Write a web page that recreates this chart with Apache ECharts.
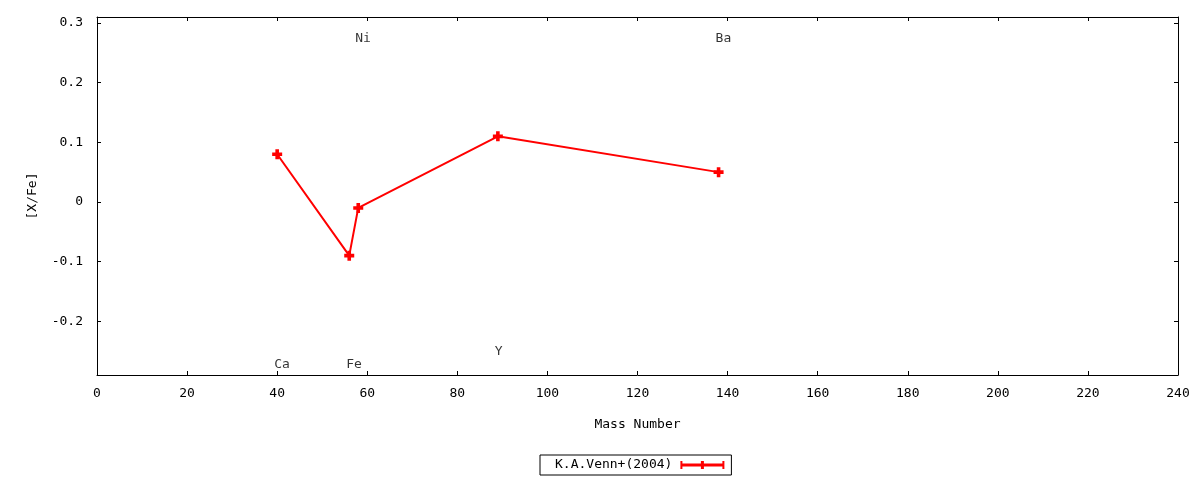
<!DOCTYPE html>
<html>
<head>
<meta charset="utf-8">
<script src="https://cdn.jsdelivr.net/npm/echarts@6/dist/echarts.min.js"></script>
<style>html,body{margin:0;padding:0;background:#fff}#c{width:1200px;height:480px}</style>
</head>
<body>
<div id="c"></div>
<script>
const elements = ['Ca', 'Fe', 'Ni', 'Y', 'Ba'];
const massNumbers = [40, 56, 58, 89, 138];
const xFe = [0.08, -0.09, -0.01, 0.11, 0.05];
const labelY = [-0.273, -0.273, 0.273, -0.25, 0.273];
const xTicks = [0, 20, 40, 60, 80, 100, 120, 140, 160, 180, 200, 220, 240];
const yTicks = [-0.2, -0.1, 0, 0.1, 0.2, 0.3];
const seriesName = 'K.A.Venn+(2004)';

const FONT = 'DejaVu Sans Mono';
const plusPath = 'path://M3.2,0H6.8V3.2H10V6.8H6.8V10H3.2V6.8H0V3.2H3.2Z';
const legendPath = 'path://M0,2.5H44V5.5H0Z M0,0H2V8H0Z M42,0H44V8H42Z M20.5,0H23.5V8H20.5Z';

const chart = echarts.init(document.getElementById('c'), null, {renderer: 'canvas'});
const axisLineStyle = {show: true, onZero: false, lineStyle: {color: '#000', width: 1}};
const tickStyle = {show: true, inside: true, length: 4, lineStyle: {color: '#000', width: 1}};
const lblStyle = {color: '#000', fontFamily: FONT, fontSize: 13};

chart.setOption({
  animation: false,
  backgroundColor: '#fff',
  grid: {left: 97, right: 22, top: 17, bottom: 105, show: false},
  legend: {
    data: [{name: seriesName, icon: legendPath}],
    left: 540, top: 455,
    align: 'right',
    itemWidth: 44, itemHeight: 8,
    padding: [3, 7, 3, 15],
    borderColor: '#000', borderWidth: 1,
    textStyle: {color: '#000', fontFamily: FONT, fontSize: 13, lineHeight: 14, padding: [0, 3, 0, 0]},
    selectedMode: false
  },
  xAxis: [{
    type: 'value', min: 0, max: 240, interval: 20,
    position: 'bottom',
    name: 'Mass Number', nameLocation: 'middle', nameGap: 43,
    nameTextStyle: lblStyle,
    axisLine: axisLineStyle,
    axisTick: tickStyle,
    axisLabel: Object.assign({margin: 12, customValues: xTicks}, lblStyle),
    splitLine: {show: false}
  }, {
    type: 'value', min: 0, max: 240, interval: 20,
    position: 'top',
    axisLine: axisLineStyle,
    axisTick: tickStyle,
    axisLabel: {show: false},
    splitLine: {show: false}
  }],
  yAxis: [{
    type: 'value', min: -0.29, max: 0.31,
    position: 'left',
    name: '[X/Fe]', nameLocation: 'middle', nameGap: 58, nameRotate: 90,
    nameTextStyle: lblStyle,
    axisLine: axisLineStyle,
    axisTick: Object.assign({customValues: yTicks}, tickStyle),
    axisLabel: Object.assign({margin: 14, customValues: yTicks, formatter: v => String(Math.round(v * 10) / 10)}, lblStyle),
    splitLine: {show: false}
  }, {
    type: 'value', min: -0.29, max: 0.31,
    position: 'right',
    axisLine: axisLineStyle,
    axisTick: Object.assign({customValues: yTicks}, tickStyle),
    axisLabel: {show: false},
    splitLine: {show: false}
  }],
  series: [{
    name: seriesName,
    type: 'line',
    xAxisIndex: 0, yAxisIndex: 0,
    data: massNumbers.map((m, i) => [m, xFe[i]]),
    lineStyle: {color: '#ff0000', width: 2},
    itemStyle: {color: '#ff0000'},
    symbol: plusPath, symbolSize: 10,
    showSymbol: true
  }, {
    name: 'labels',
    type: 'scatter',
    xAxisIndex: 0, yAxisIndex: 0,
    symbolSize: 0,
    data: massNumbers.map((m, i) => [m, labelY[i], elements[i]]),
    label: {
      show: true, position: [-3, 0],
      align: 'left', verticalAlign: 'middle',
      formatter: p => p.data[2],
      color: '#000', fontFamily: FONT, fontSize: 13
    },
    silent: true
  }]
});
</script>
</body>
</html>
